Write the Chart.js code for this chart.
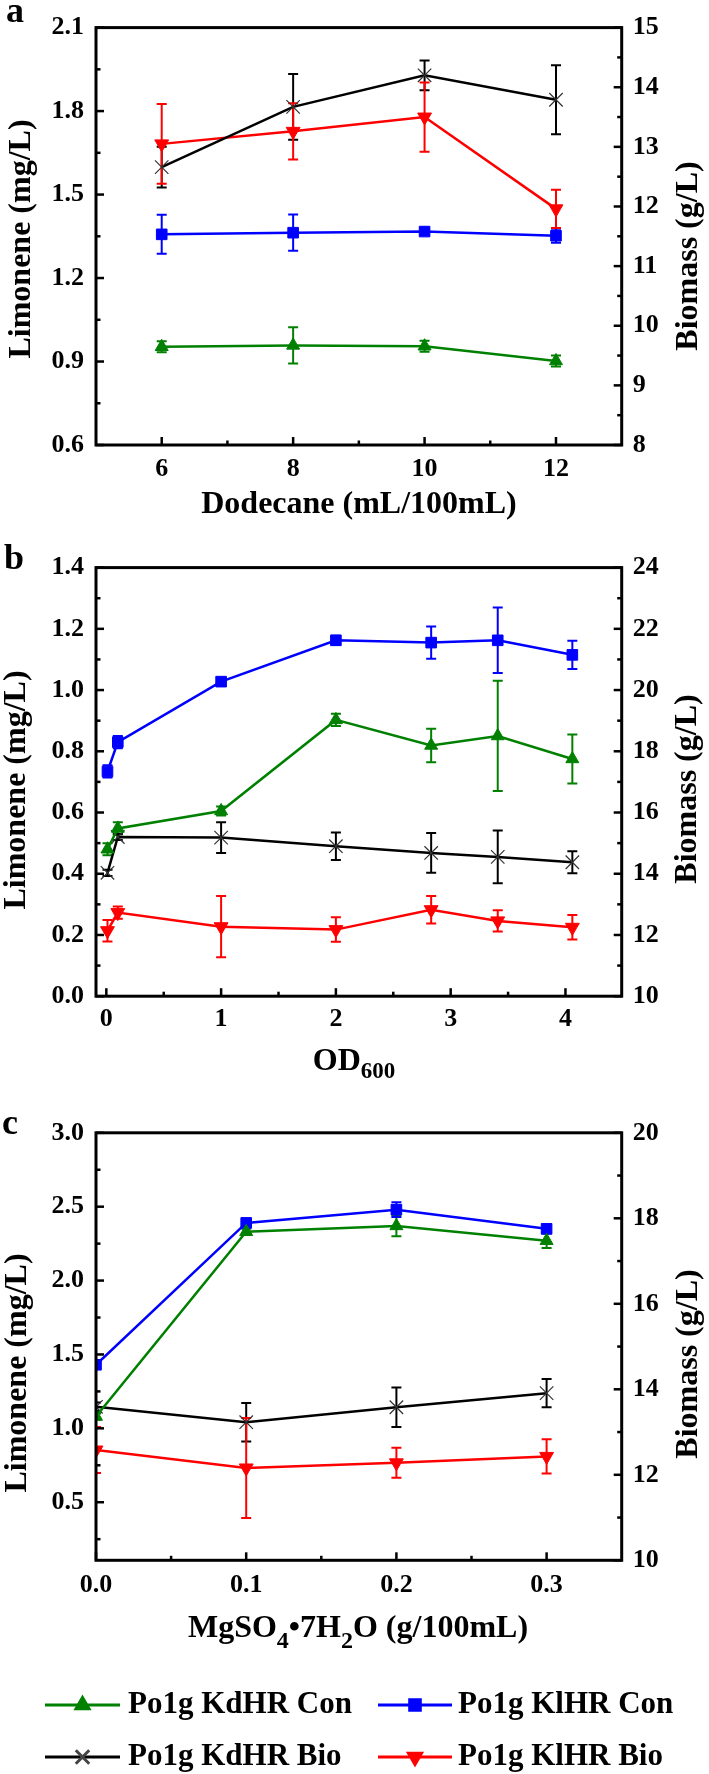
<!DOCTYPE html>
<html>
<head>
<meta charset="utf-8">
<script src="https://cdn.jsdelivr.net/npm/chart.js@4.4.0/dist/chart.umd.min.js"></script>
<style>
  html, body { margin: 0; padding: 0; background: #fff; }
  body { width: 709px; height: 1774px; position: relative; overflow: hidden; }
  .panel { position: absolute; left: 0; width: 709px; }
</style>
</head>
<body>
<div class="panel" style="top:0;height:540px"><canvas id="chartA"></canvas></div>
<div class="panel" style="top:540px;height:550px"><canvas id="chartB"></canvas></div>
<div class="panel" style="top:1090px;height:684px"><canvas id="chartC"></canvas></div>
<script>
const FONT = '"Liberation Serif", "Times New Roman", Times, serif';
const GREEN = '#008000', BLUE = '#0000ff', RED = '#ff0000', BLACK = '#000000';

// panel a - dodecane volume
const dodecane = [6, 8, 10, 12];
const kdConA = [0.953, 0.958, 0.955, 0.902];
const kdConErrA = [0.02, 0.065, 0.02, 0.02];
const klConA = [1.357, 1.363, 1.367, 1.352];
const klConErrA = [0.07, 0.065, 0.01, 0.025];
const kdBioA = [12.66, 13.67, 14.2, 13.79];
const kdBioErrA = [0.34, 0.55, 0.25, 0.58];
const klBioA = [13.05, 13.26, 13.5, 11.96];
const klBioErrA = [0.67, 0.47, 0.58, 0.32];
const dodecaneTicks = [6, 8, 10, 12];
const limoTicksA = [0.6, 0.9, 1.2, 1.5, 1.8, 2.1];
const bioTicksA = [8, 9, 10, 11, 12, 13, 14, 15];

// panel b - inoculation OD600
const od600 = [0.01, 0.1, 1, 2, 2.83, 3.41, 4.06];
const kdConB = [0.48, 0.548, 0.605, 0.9025, 0.819, 0.85, 0.775];
const kdConErrB = [0.02, 0.02, 0.015, 0.02, 0.055, 0.18, 0.08];
const klConB = [0.734, 0.83, 1.0275, 1.1625, 1.155, 1.1625, 1.115];
const klConErrB = [0.02, 0.02, 0.01, 0.015, 0.053, 0.107, 0.046];
const kdBioB = [14.03, 15.2, 15.18, 14.9, 14.68, 14.55, 14.375];
const kdBioErrB = [0.1, 0.1, 0.5, 0.45, 0.65, 0.86, 0.36];
const klBioB = [12.14, 12.73, 12.27, 12.175, 12.825, 12.46, 12.25];
const klBioErrB = [0.35, 0.2, 1.0, 0.4, 0.45, 0.35, 0.4];
const odTicks = [0, 1, 2, 3, 4];
const limoTicksB = [0, 0.2, 0.4, 0.6, 0.8, 1.0, 1.2, 1.4];
const bioTicksB = [10, 12, 14, 16, 18, 20, 22, 24];

// panel c - MgSO4 concentration
const mgso4 = [0, 0.1, 0.2, 0.3];
const kdConC = [1.08, 2.33, 2.37, 2.27];
const kdConErrC = [0.02, 0.02, 0.07, 0.05];
const klConC = [1.43, 2.39, 2.48, 2.35];
const klConErrC = [0.02, 0.03, 0.05, 0.03];
const kdBioC = [13.59, 13.23, 13.58, 13.91];
const kdBioErrC = [0.1, 0.45, 0.46, 0.33];
const klBioC = [12.58, 12.16, 12.28, 12.43];
const klBioErrC = [0.54, 1.17, 0.35, 0.4];
const mgTicks = [0, 0.1, 0.2, 0.3];
const limoTicksC = [0.5, 1.0, 1.5, 2.0, 2.5, 3.0];
const bioTicksC = [10, 12, 14, 16, 18, 20];

const legendItems = [
  { label: 'Po1g KdHR Con', color: GREEN, style: 'triangle', rotation: 0 },
  { label: 'Po1g KlHR Con', color: BLUE, style: 'rect', rotation: 0 },
  { label: 'Po1g KdHR Bio', color: BLACK, style: 'crossRot', rotation: 0 },
  { label: 'Po1g KlHR Bio', color: RED, style: 'triangle', rotation: 180 }
];

function series(x, kdCon, kdConErr, klCon, klConErr, kdBio, kdBioErr, klBio, klBioErr) {
  const pts = vals => x.map((v, i) => ({ x: v, y: vals[i] }));
  const base = { borderWidth: 2.5, clip: 0, tension: 0 };
  return [
    Object.assign({}, base, { label: 'Po1g KdHR Con', yAxisID: 'yL', data: pts(kdCon), errors: kdConErr,
      borderColor: GREEN, backgroundColor: GREEN, pointStyle: 'triangle', pointRadius: 7.5, pointBorderWidth: 1 }),
    Object.assign({}, base, { label: 'Po1g KlHR Con', yAxisID: 'yL', data: pts(klCon), errors: klConErr,
      borderColor: BLUE, backgroundColor: BLUE, pointStyle: 'rect', pointRadius: 7.5, pointBorderWidth: 1 }),
    Object.assign({}, base, { label: 'Po1g KdHR Bio', yAxisID: 'yR', data: pts(kdBio), errors: kdBioErr,
      borderColor: BLACK, backgroundColor: BLACK, pointBorderColor: '#333', pointStyle: 'crossRot', pointRadius: 9.5, pointBorderWidth: 1.2 }),
    Object.assign({}, base, { label: 'Po1g KlHR Bio', yAxisID: 'yR', data: pts(klBio), errors: klBioErr,
      borderColor: RED, backgroundColor: RED, pointStyle: 'triangle', pointRotation: 180, pointRadius: 8, pointBorderWidth: 1 })
  ];
}

const errorBars = {
  id: 'errorBars',
  beforeDatasetsDraw(chart) {
    const { ctx, chartArea: a } = chart;
    ctx.save();
    ctx.beginPath();
    ctx.rect(a.left, a.top, a.right - a.left, a.bottom - a.top);
    ctx.clip();
    chart.data.datasets.forEach(ds => {
      const xs = chart.scales.x, ys = chart.scales[ds.yAxisID];
      ctx.strokeStyle = ds.borderColor;
      ctx.lineWidth = 2;
      ds.data.forEach((p, j) => {
        const e = ds.errors[j];
        const px = xs.getPixelForValue(p.x);
        const y1 = ys.getPixelForValue(p.y + e), y2 = ys.getPixelForValue(p.y - e);
        ctx.beginPath();
        ctx.moveTo(px, y1); ctx.lineTo(px, y2);
        ctx.moveTo(px - 5, y1); ctx.lineTo(px + 5, y1);
        ctx.moveTo(px - 5, y2); ctx.lineTo(px + 5, y2);
        ctx.stroke();
      });
    });
    ctx.restore();
  }
};

function minorTicks(majors, min, max) {
  const step = majors[1] - majors[0];
  const out = [];
  majors.forEach(v => {
    [v - step / 2, v + step / 2].forEach(m => {
      if (m > min + 1e-6 && m < max - 1e-6 && !out.some(o => Math.abs(o - m) < 1e-6)) out.push(m);
    });
  });
  return out;
}

// draws text pieces (for subscripts) centred on cx
function drawRich(ctx, parts, cx, baseY) {
  let total = 0;
  parts.forEach(p => { ctx.font = 'bold ' + p.size + 'px ' + FONT; p.w = ctx.measureText(p.t).width; total += p.w; });
  let x = cx - total / 2;
  ctx.textAlign = 'left';
  ctx.textBaseline = 'alphabetic';
  parts.forEach(p => {
    ctx.font = 'bold ' + p.size + 'px ' + FONT;
    ctx.fillText(p.t, x, baseY + (p.dy || 0));
    x += p.w;
  });
}

function frame(cfg) {
  return {
    id: 'frame',
    afterDraw(chart) {
      const { ctx, chartArea: a } = chart;
      ctx.save();
      ctx.strokeStyle = '#000';
      ctx.fillStyle = '#000';
      // ticks pointing inwards
      ctx.lineWidth = 2.5;
      const xs = chart.scales.x, yl = chart.scales.yL, yr = chart.scales.yR;
      const tick = (scale, vals, len) => {
        vals.forEach(v => {
          const p = scale.getPixelForValue(v);
          ctx.beginPath();
          if (scale === xs) { ctx.moveTo(p, a.bottom); ctx.lineTo(p, a.bottom - len); }
          else if (scale === yl) { ctx.moveTo(a.left, p); ctx.lineTo(a.left + len, p); }
          else { ctx.moveTo(a.right, p); ctx.lineTo(a.right - len, p); }
          ctx.stroke();
        });
      };
      tick(xs, cfg.xTicks, 8);
      tick(xs, minorTicks(cfg.xTicks, cfg.xMin, cfg.xMax), 4.5);
      tick(yl, cfg.yLTicks, 8);
      tick(yl, minorTicks(cfg.yLTicks, cfg.yLMin, cfg.yLMax), 4.5);
      tick(yr, cfg.yRTicks, 8);
      tick(yr, minorTicks(cfg.yRTicks, cfg.yRMin, cfg.yRMax), 4.5);
      // box
      ctx.lineWidth = 3;
      ctx.strokeRect(a.left, a.top, a.right - a.left, a.bottom - a.top);

      // axis titles
      drawRich(ctx, cfg.xTitle, cfg.xTitleX, cfg.xTitleBase);
      ctx.font = 'bold 32px ' + FONT;
      ctx.textAlign = 'center';
      ctx.textBaseline = 'middle';
      [[cfg.yLTitlePos, 'Limonene (mg/L)'], [cfg.yRTitlePos, 'Biomass (g/L)']].forEach(([pos, txt]) => {
        ctx.save();
        ctx.translate(pos[0], pos[1]);
        ctx.rotate(-Math.PI / 2);
        ctx.fillText(txt, 0, 0);
        ctx.restore();
      });
      // panel letter
      ctx.font = 'bold 36px ' + FONT;
      ctx.textAlign = 'left';
      ctx.textBaseline = 'alphabetic';
      ctx.fillText(cfg.letter, cfg.letterPos[0], cfg.letterPos[1]);

      if (cfg.legend) {
        const cols = [{ x0: 45, x1: 120, tx: 128 }, { x0: 378, x1: 452, tx: 458 }];
        const rows = [615, 667];
        legendItems.forEach((it, i) => {
          const c = cols[i % 2], y = rows[Math.floor(i / 2)];
          ctx.strokeStyle = it.color;
          ctx.fillStyle = it.color;
          ctx.lineWidth = 3;
          ctx.beginPath(); ctx.moveTo(c.x0, y); ctx.lineTo(c.x1, y); ctx.stroke();
          const big = it.style === 'crossRot';
          if (big) { ctx.strokeStyle = '#444'; }
          Chart.helpers.drawPoint(ctx, { pointStyle: it.style, rotation: it.rotation,
            radius: big ? 9.5 : 7.5, borderWidth: big ? 1.2 : 1 }, (c.x0 + c.x1) / 2, y);
          ctx.fillStyle = '#000';
          ctx.font = 'bold 31px ' + FONT;
          ctx.textAlign = 'left';
          ctx.textBaseline = 'middle';
          ctx.fillText(it.label, c.tx, y);
        });
      }
      ctx.restore();
    }
  };
}

function makePanel(cfg) {
  const tickFont = { family: FONT, size: 26, weight: 'bold' };
  const fixTicks = vals => s => { s.ticks = vals.map(v => ({ value: v })); };
  const common = { grid: { display: false, drawTicks: false }, border: { display: false } };
  new Chart(document.getElementById(cfg.id), {
    type: 'line',
    data: { datasets: cfg.datasets },
    options: {
      responsive: true,
      maintainAspectRatio: false,
      animation: false,
      layout: { padding: { top: cfg.top, left: 0, right: 0, bottom: 0 } },
      plugins: { legend: { display: false }, tooltip: { enabled: false } },
      scales: {
        x: Object.assign({}, common, {
          type: 'linear', position: 'bottom', min: cfg.xMin, max: cfg.xMax,
          afterBuildTicks: fixTicks(cfg.xTicks),
          afterFit: s => { s.height = cfg.height - cfg.bottom; },
          ticks: { font: tickFont, color: '#000', padding: cfg.xPad, maxRotation: 0, autoSkip: false,
            callback: v => Number(v).toFixed(cfg.xDec) }
        }),
        yL: Object.assign({}, common, {
          type: 'linear', position: 'left', min: cfg.yLMin, max: cfg.yLMax,
          afterBuildTicks: fixTicks(cfg.yLTicks),
          afterFit: s => { s.width = 96; },
          ticks: { font: tickFont, color: '#000', padding: 12, autoSkip: false,
            callback: v => Number(v).toFixed(1) }
        }),
        yR: Object.assign({}, common, {
          type: 'linear', position: 'right', min: cfg.yRMin, max: cfg.yRMax,
          afterBuildTicks: fixTicks(cfg.yRTicks),
          afterFit: s => { s.width = 87.3; },
          ticks: { font: tickFont, color: '#000', padding: 11, autoSkip: false,
            callback: v => Number(v).toFixed(0) }
        })
      }
    },
    plugins: [errorBars, frame(cfg)]
  });
}

makePanel({
  id: 'chartA', height: 540, top: 16, bottom: 445, xPad: 9,
  xMin: 5, xMax: 13, xTicks: dodecaneTicks, xDec: 0,
  yLMin: 0.6, yLMax: 2.1, yLTicks: limoTicksA,
  yRMin: 8, yRMax: 15, yRTicks: bioTicksA,
  datasets: series(dodecane, kdConA, kdConErrA, klConA, klConErrA, kdBioA, kdBioErrA, klBioA, klBioErrA),
  xTitle: [{ t: 'Dodecane (mL/100mL)', size: 32 }], xTitleX: 359, xTitleBase: 513,
  yLTitlePos: [22, 239], yRTitlePos: [689, 256],
  letter: 'a', letterPos: [6, 22]
});

makePanel({
  id: 'chartB', height: 550, top: 27.6, bottom: 456.2, xPad: 7,
  xMin: -0.09, xMax: 4.49, xTicks: odTicks, xDec: 0,
  yLMin: 0, yLMax: 1.4, yLTicks: limoTicksB,
  yRMin: 10, yRMax: 24, yRTicks: bioTicksB,
  datasets: series(od600, kdConB, kdConErrB, klConB, klConErrB, kdBioB, kdBioErrB, klBioB, klBioErrB),
  xTitle: [{ t: 'OD', size: 32 }, { t: '600', size: 23, dy: 8 }], xTitleX: 354, xTitleBase: 530,
  yLTitlePos: [17, 250], yRTitlePos: [688, 249],
  letter: 'b', letterPos: [4, 29]
});

makePanel({
  id: 'chartC', height: 684, top: 42.8, bottom: 470.3, xPad: 9,
  xMin: 0, xMax: 0.35, xTicks: mgTicks, xDec: 1,
  yLMin: 0.107, yLMax: 3.0, yLTicks: limoTicksC,
  yRMin: 10, yRMax: 20, yRTicks: bioTicksC,
  datasets: series(mgso4, kdConC, kdConErrC, klConC, klConErrC, kdBioC, kdBioErrC, klBioC, klBioErrC),
  xTitle: [{ t: 'MgSO', size: 32 }, { t: '4', size: 24, dy: 11 }, { t: '\u20227H', size: 32 },
           { t: '2', size: 24, dy: 11 }, { t: 'O (g/100mL)', size: 32 }], xTitleX: 358, xTitleBase: 547,
  yLTitlePos: [18, 283], yRTitlePos: [689, 274],
  letter: 'c', letterPos: [2, 44],
  legend: true
});
</script>
</body>
</html>
